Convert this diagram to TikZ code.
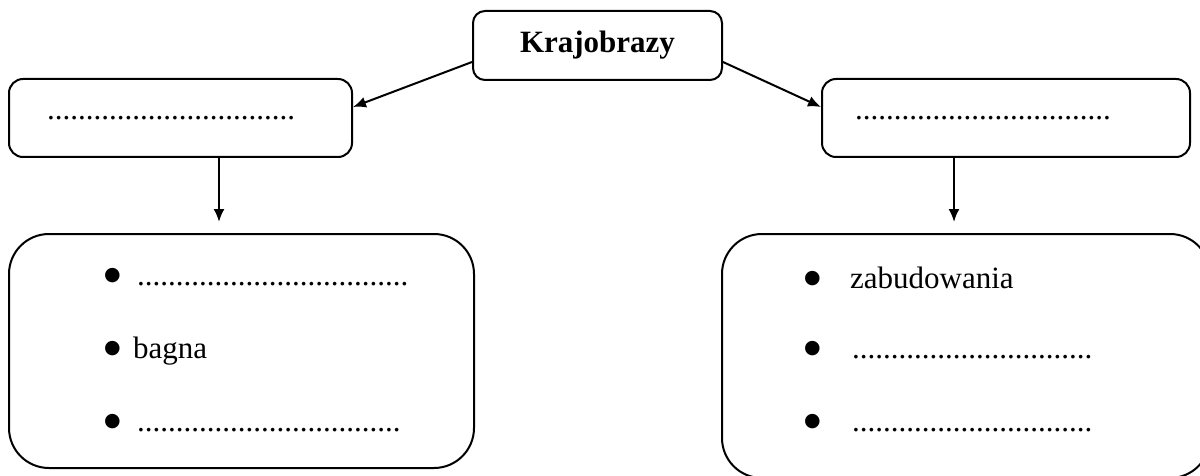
\documentclass[tikz,border=0pt]{standalone}
\usepackage{fontspec}
\setmainfont{Liberation Serif}
\newfontfamily\sym{DejaVu Sans}
\usetikzlibrary{arrows.meta}
\newcommand\txt{\fontsize{31pt}{37pt}\selectfont}
\newcommand\kropki[1]{\foreach \k in {1,...,#1}{.}}
\newcommand\kulka{\raisebox{4.5pt}{\sym\fontsize{19pt}{19pt}\selectfont ●}}

\begin{document}
\begin{tikzpicture}[x=1pt,y=-1pt,
		box/.style={draw,line width=2pt,rounded corners=14pt,inner sep=0pt},
		bigbox/.style={box,rounded corners=40pt},
		item/.style={anchor=base west,inner sep=0pt,font=\txt},
		arr/.style={line width=2pt,-{Latex[length=13pt,width=11pt]}}]
		%%%%% START %%%%%
		\useasboundingbox (0,0) rectangle (1200,476);
		
		\node[box,rounded corners=12pt,minimum width=249pt,minimum height=69pt,font=\txt\bfseries] (top) at (597.5,45.5) {Krajobrazy};
		
		\node[box,minimum width=343pt,minimum height=78pt] (lbox) at (180.5,118) {};
		\node[item] (ldots) at (47,120) {\kropki{32}};
		
		\node[box,minimum width=368pt,minimum height=78pt] (rbox) at (1006,118) {};
		\node[item] (rdots) at (855,120) {\kropki{33}};
		
		\node[bigbox,minimum width=465pt,minimum height=234pt] (lbig) at (241.5,351) {};
		\node[item] (l1) at (104,285) {\makebox[33pt][l]{\kulka}\kropki{35}};
		\node[item] (l2) at (104,358) {\makebox[29pt][l]{\kulka}bagna};
		\node[item] (l3) at (104,431) {\makebox[33pt][l]{\kulka}\kropki{34}};
		
		\node[bigbox,minimum width=488pt,minimum height=244pt] (rbig) at (966,356) {};
		\node[item] (r1) at (804,288) {\makebox[46pt][l]{\kulka}zabudowania};
		\node[item] (r2) at (804,358) {\makebox[48pt][l]{\kulka}\kropki{31}};
		\node[item] (r3) at (804,431) {\makebox[48pt][l]{\kulka}\kropki{31}};
		
		\draw[arr] ([yshift=-16.5pt]top.west) -- ([yshift=11pt]lbox.east);
		\draw[arr] ([yshift=-16.5pt]top.east) -- ([yshift=11pt]rbox.west);
		
		\coordinate (ld) at ([xshift=38.5pt]lbox.south);
		\coordinate (rd) at ([xshift=-52pt]rbox.south);
		\draw[arr,shorten >=11pt] (ld) -- (ld |- lbig.north);
		\draw[arr,shorten >=11pt] (rd) -- (rd |- rbig.north);
		%%%%% END %%%%%
	\end{tikzpicture}
\end{document}
